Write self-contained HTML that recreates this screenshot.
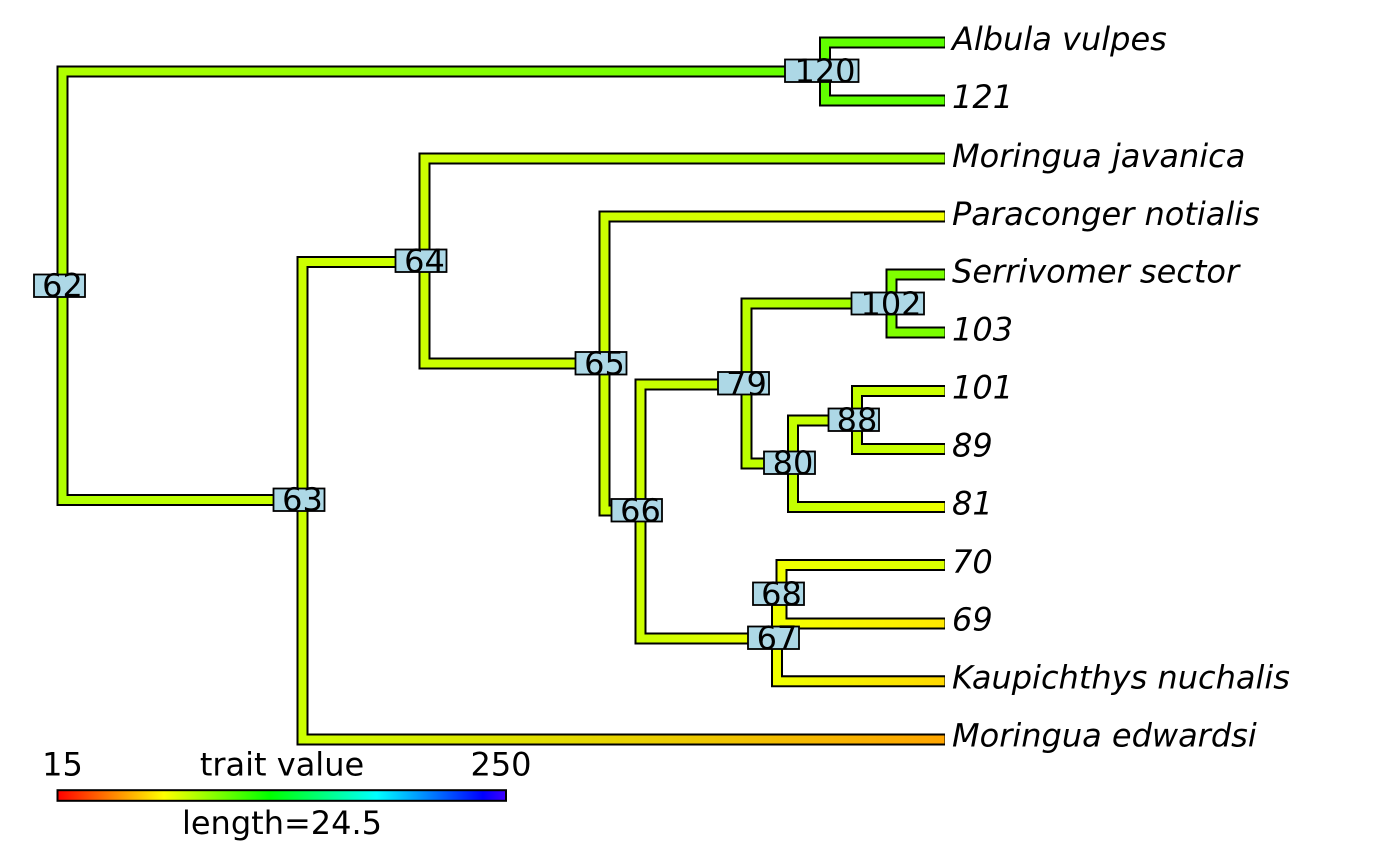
<!DOCTYPE html>
<html><head><meta charset="utf-8"><style>
html,body{margin:0;padding:0;background:#fff}
svg{display:block}
text{font-family:"DejaVu Sans",sans-serif;font-size:32px;fill:#000}
.l{font-style:italic}
.n{text-anchor:middle}
rect.b{fill:#add8e6;stroke:#000;stroke-width:1.8}
</style></head><body>
<svg width="1400" height="866" viewBox="0 0 1400 866" xmlns="http://www.w3.org/2000/svg">
<defs>
<linearGradient id="h1"><stop offset="0" stop-color="#b0ff00"/><stop offset="1" stop-color="#62ff00"/></linearGradient>
<linearGradient id="h2"><stop offset="0" stop-color="#b0ff00"/><stop offset="1" stop-color="#ccff00"/></linearGradient>
<linearGradient id="h3"><stop offset="0" stop-color="#ccff00"/><stop offset="1" stop-color="#ccff00"/></linearGradient>
<linearGradient id="h4"><stop offset="0" stop-color="#d0ff00"/><stop offset="1" stop-color="#ffa500"/></linearGradient>
<linearGradient id="h5"><stop offset="0" stop-color="#ccff00"/><stop offset="1" stop-color="#9aff00"/></linearGradient>
<linearGradient id="h6"><stop offset="0" stop-color="#ccff00"/><stop offset="1" stop-color="#f0ff00"/></linearGradient>
<linearGradient id="h7"><stop offset="0" stop-color="#b8ff00"/><stop offset="1" stop-color="#9cff00"/></linearGradient>
<linearGradient id="h8"><stop offset="0" stop-color="#80ff00"/><stop offset="1" stop-color="#78ff00"/></linearGradient>
<linearGradient id="h9"><stop offset="0" stop-color="#c4ff00"/><stop offset="1" stop-color="#ccff00"/></linearGradient>
<linearGradient id="h10"><stop offset="0" stop-color="#c4ff00"/><stop offset="1" stop-color="#eeff00"/></linearGradient>
<linearGradient id="h11"><stop offset="0" stop-color="#f0ff00"/><stop offset="1" stop-color="#d8ff00"/></linearGradient>
<linearGradient id="h12"><stop offset="0" stop-color="#f4ff00"/><stop offset="1" stop-color="#ffe800"/></linearGradient>
<linearGradient id="h13"><stop offset="0" stop-color="#f0ff00"/><stop offset="1" stop-color="#ffd800"/></linearGradient>
<linearGradient id="h14"><stop offset="0" stop-color="#62ff00"/><stop offset="1" stop-color="#58ff00"/></linearGradient>
<linearGradient id="h15"><stop offset="0" stop-color="#c8ff00"/><stop offset="1" stop-color="#c0ff00"/></linearGradient>
<linearGradient id="r"><stop offset="0" stop-color="#ff0000"/><stop offset="0.2372" stop-color="#ffff00"/><stop offset="0.4744" stop-color="#00ff00"/><stop offset="0.7115" stop-color="#00ffff"/><stop offset="0.9486" stop-color="#0000ff"/><stop offset="1" stop-color="#4000ff"/></linearGradient>
</defs>

<!-- black outlines -->
<g fill="none" stroke="#000" stroke-width="12" stroke-linejoin="miter" stroke-linecap="butt">
<path d="M825 71.5H62.5V500H302"/>
<path d="M945 42.5H825V100.5H945"/>
<path d="M424 262H302.5V739.5H945"/>
<path d="M945 158.5H424.5V363.5H604"/>
<path d="M945 216.5H604.5V510.5H640"/>
<path d="M746 384.5H640.5V638.5H777"/>
<path d="M891 303.5H746.5V463.5H793"/>
<path d="M945 274.5H891.5V332.5H945"/>
<path d="M857 420.5H793V507H945"/>
<path d="M945 391H857V449H945"/>
<path d="M945 565H781.5V623.5H945"/>
<path d="M777 594V681.3H945"/>
</g>

<!-- coloured fill -->
<g>
<rect x="58.5" y="67.5" width="8" height="436.5" fill="#b0ff00"/>
<rect x="66" y="67.5" width="759" height="8" fill="url(#h1)"/>
<rect x="66" y="496" width="236" height="8" fill="url(#h2)"/>
<rect x="298.5" y="258" width="8" height="485.5" fill="#ccff00"/>
<rect x="306" y="258" width="118" height="8" fill="url(#h3)"/>
<rect x="306" y="735.5" width="638.5" height="8" fill="url(#h4)"/>
<rect x="821" y="38.5" width="8" height="66" fill="#62ff00"/>
<rect x="829" y="38.5" width="115.5" height="8" fill="url(#h14)"/>
<rect x="829" y="96.5" width="115.5" height="8" fill="url(#h14)"/>
<rect x="420.5" y="154.5" width="8" height="213" fill="#ccff00"/>
<rect x="428" y="154.5" width="516.5" height="8" fill="url(#h5)"/>
<rect x="428" y="359.5" width="176" height="8" fill="#ccff00"/>
<rect x="600.5" y="212.5" width="8" height="302" fill="#ccff00"/>
<rect x="608.5" y="212.5" width="336" height="8" fill="url(#h6)"/>
<rect x="608.5" y="506.5" width="32" height="8" fill="#ccff00"/>
<rect x="636.5" y="380.5" width="8" height="262" fill="#ccff00"/>
<rect x="644.5" y="380.5" width="102" height="8" fill="url(#h15)"/>
<rect x="644.5" y="634.5" width="133" height="8" fill="url(#h6)"/>
<rect x="742.5" y="299.5" width="8" height="168" fill="#bcff00"/>
<rect x="750.5" y="299.5" width="140.5" height="8" fill="url(#h7)"/>
<rect x="750.5" y="459.5" width="43" height="8" fill="#c0ff00"/>
<rect x="887.5" y="270.5" width="8" height="66" fill="#80ff00"/>
<rect x="895" y="270.5" width="49.5" height="8" fill="url(#h8)"/>
<rect x="895" y="328.5" width="49.5" height="8" fill="url(#h8)"/>
<rect x="789" y="416.5" width="8" height="94.5" fill="#c4ff00"/>
<rect x="797" y="416.5" width="60" height="8" fill="#c4ff00"/>
<rect x="797" y="503" width="147.5" height="8" fill="url(#h10)"/>
<rect x="853" y="387" width="8" height="66" fill="#c4ff00"/>
<rect x="861" y="387" width="83.5" height="8" fill="url(#h9)"/>
<rect x="861" y="445" width="83.5" height="8" fill="url(#h9)"/>
<rect x="777.5" y="561" width="8" height="66.5" fill="#f0ff00"/>
<rect x="785" y="561" width="159.5" height="8" fill="url(#h11)"/>
<rect x="785" y="619.5" width="159.5" height="8" fill="url(#h12)"/>
<rect x="773" y="594" width="8" height="91.3" fill="#f0ff00"/>
<rect x="781" y="677.3" width="163.5" height="8" fill="url(#h13)"/>
</g>

<!-- node labels -->
<g>
<rect class="b" x="34" y="274.5" width="51" height="22.5"/><text class="n" x="62.5" y="296.5">62</text>
<rect class="b" x="273.5" y="488.5" width="51" height="22.5"/><text class="n" x="302.5" y="510.5">63</text>
<rect class="b" x="395.5" y="249.5" width="51" height="22.5"/><text class="n" x="424.5" y="272">64</text>
<rect class="b" x="575.5" y="352" width="51" height="22.5"/><text class="n" x="604.5" y="374.5">65</text>
<rect class="b" x="611.5" y="499" width="50.5" height="22.5"/><text class="n" x="640.5" y="521.5">66</text>
<rect class="b" x="748" y="626.5" width="51" height="22.5"/><text class="n" x="777" y="649">67</text>
<rect class="b" x="753" y="582.5" width="51" height="22.5"/><text class="n" x="781.5" y="605">68</text>
<rect class="b" x="718" y="372" width="51" height="22.5"/><text class="n" x="746.5" y="395">79</text>
<rect class="b" x="764" y="451.5" width="51" height="22.5"/><text class="n" x="793" y="474">80</text>
<rect class="b" x="828.5" y="408.5" width="50.5" height="22.5"/><text class="n" x="857" y="431">88</text>
<rect class="b" x="851.5" y="292.5" width="72.5" height="22"/><text class="n" x="891" y="315">102</text>
<rect class="b" x="785" y="59.5" width="73.5" height="22.5"/><text class="n" x="825" y="82">120</text>
</g>

<!-- tip labels -->
<g>
<text class="l" x="952" y="50">Albula vulpes</text>
<text class="l" x="952" y="108">121</text>
<text class="l" x="952" y="167">Moringua javanica</text>
<text class="l" x="952" y="225">Paraconger notialis</text>
<text class="l" x="952" y="282.5">Serrivomer sector</text>
<text class="l" x="952" y="340.5">103</text>
<text class="l" x="952" y="398.5">101</text>
<text class="l" x="952" y="456.5">89</text>
<text class="l" x="952" y="514.5">81</text>
<text class="l" x="952" y="573">70</text>
<text class="l" x="952" y="630.5">69</text>
<text class="l" x="952" y="688.5">Kaupichthys nuchalis</text>
<text class="l" x="952" y="746.5">Moringua edwardsi</text>
</g>

<!-- legend -->
<rect x="57.5" y="790.2" width="448.5" height="10.6" fill="url(#r)" stroke="#000" stroke-width="2"/>
<text class="n" x="62.5" y="775.5">15</text>
<text class="n" x="282" y="775.5">trait value</text>
<text class="n" x="501" y="775.5">250</text>
<text class="n" x="282" y="834">length=24.5</text>
</svg>
</body></html>
